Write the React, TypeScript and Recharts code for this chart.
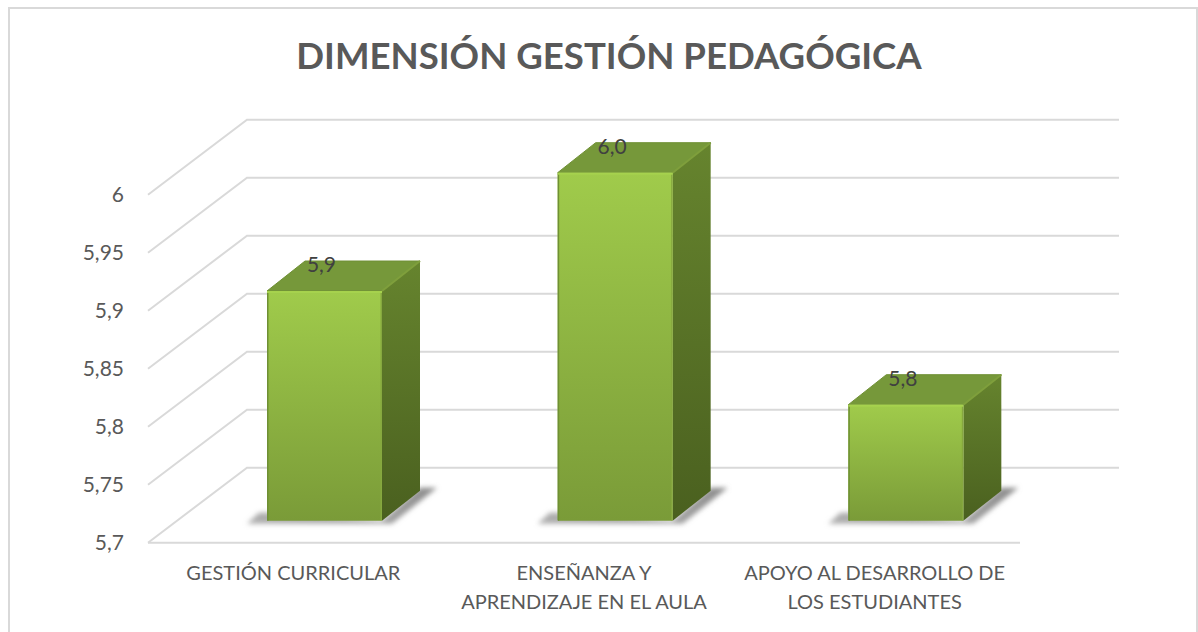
import * as React from 'react';
import { BarChart, Bar, XAxis, YAxis, CartesianGrid, LabelList } from 'recharts';

const categories = [
  'GESTIÓN CURRICULAR',
  'ENSEÑANZA Y\nAPRENDIZAJE EN EL AULA',
  'APOYO AL DESARROLLO DE\nLOS ESTUDIANTES',
];
const values = [5.898, 6.0, 5.8];
const yTicks = [5.7, 5.75, 5.8, 5.85, 5.9, 5.95, 6];

const chartData = categories.map((name, i) => ({ name, value: values[i] }));

const TEXT = '#595959';
const FONT = 'Lato, Carlito, sans-serif';

// fake 3D: how far the back wall and the bars sit from the front plane
const WALL_DX = 99;
const WALL_DY = 75;
const BAR_DX = 31;
const BAR_DY = 22;
const DEPTH_X = 38;
const DEPTH_Y = 30;

const comma = (v: number, digits?: number) =>
  (digits === undefined ? String(v) : v.toFixed(digits)).replace('.', ',');

function GridLine({ x1, x2, y1 }: any) {
  const back = y1 - WALL_DY;
  return (
    <polyline
      points={`${x1},${y1} ${x1 + WALL_DX},${back} ${x2 + WALL_DX},${back}`}
      fill="none"
      stroke="#d9d9d9"
      strokeWidth={2}
    />
  );
}

function Bar3D({ x, y, width, height }: any) {
  const left = x + BAR_DX;
  const right = left + width;
  const top = y - BAR_DY;
  const base = top + height;
  return (
    <g>
      <polygon
        points={`${left - 20},${base + 3} ${left - 8},${base - 8} ${left},${base - 8} ${right},${base} ${right + DEPTH_X},${base - DEPTH_Y - 3} ${right + 55},${base - DEPTH_Y - 3} ${right + 10},${base + 3}`}
        fill="url(#shadowFill)"
        filter="url(#shadowBlur)"
      />
      <polygon
        points={`${left},${top} ${left + DEPTH_X},${top - DEPTH_Y} ${right + DEPTH_X},${top - DEPTH_Y} ${right},${top}`}
        fill="#76983a"
        stroke="#6f9034"
        strokeWidth={1}
        strokeLinejoin="round"
      />
      <polygon
        points={`${right},${top} ${right + DEPTH_X},${top - DEPTH_Y} ${right + DEPTH_X},${base - DEPTH_Y} ${right},${base}`}
        fill="url(#sideFill)"
      />
      <line x1={right} y1={top} x2={right + DEPTH_X} y2={top - DEPTH_Y} stroke="#7f9f3c" strokeWidth={2} />
      <rect x={left} y={top} width={width} height={height} fill="url(#frontFill)" rx={1.5} />
      <rect x={left} y={top} width={1.5} height={height} fill="#6f9034" />
      <rect x={right - 1.5} y={top} width={1.5} height={height} fill="#86a83f" />
      <rect x={left} y={top} width={width} height={2} fill="#a6d24e" />
    </g>
  );
}

function ValueLabel({ x, y, width, value }: any) {
  return (
    <text
      x={x + width / 2 + BAR_DX - 3}
      y={y - BAR_DY - 19}
      textAnchor="middle"
      fontFamily={FONT}
      fontSize={21}
      fill="#404040"
    >
      {comma(value, 1)}
    </text>
  );
}

function CategoryTick({ x, y, payload }: any) {
  return (
    <text x={x} y={y} textAnchor="middle" fontFamily={FONT} fontSize={20} fill={TEXT}>
      {payload.value.split('\n').map((line: string, i: number) => (
        <tspan key={i} x={x} dy={i === 0 ? 0 : 29}>
          {line}
        </tspan>
      ))}
    </text>
  );
}

export default function App() {
  return (
    <div style={{ position: 'absolute', left: 0, top: 0, width: 1198, height: 632, background: '#fff', overflow: 'hidden' }}>
      <div
        style={{
          position: 'absolute',
          left: 8,
          top: 7,
          width: 1190,
          height: 640,
          border: '2px solid #d9d9d9',
          boxSizing: 'border-box',
        }}
      />
      <div
        style={{
          position: 'absolute',
          left: 0,
          right: 0,
          top: 30,
          paddingLeft: 20,
          textAlign: 'center',
          fontFamily: FONT,
          fontWeight: 700,
          fontSize: 36.6,
          lineHeight: '50px',
          color: TEXT,
        }}
      >
        DIMENSIÓN GESTIÓN PEDAGÓGICA
      </div>
      <div style={{ position: 'absolute', left: 0, top: 0 }}>
        <BarChart
          width={1198}
          height={632}
          data={chartData}
          margin={{ top: 194.7, right: 178, bottom: 19.3, left: 48 }}
          style={{ overflow: 'visible' }}
        >
          <defs>
            <linearGradient id="frontFill" x1="0" y1="0" x2="0" y2="1">
              <stop offset="0%" stopColor="#a0cb4b" />
              <stop offset="100%" stopColor="#7a9b38" />
            </linearGradient>
            <linearGradient id="sideFill" x1="0" y1="0" x2="0" y2="1">
              <stop offset="0%" stopColor="#66842e" />
              <stop offset="100%" stopColor="#4a601f" />
            </linearGradient>
            <linearGradient id="shadowFill" x1="0" y1="1" x2="1" y2="0">
              <stop offset="0%" stopColor="#b0b0b0" />
              <stop offset="100%" stopColor="#8c8c8c" />
            </linearGradient>
            <filter id="shadowBlur" x="-20%" y="-50%" width="140%" height="200%">
              <feGaussianBlur stdDeviation="2.5" />
            </filter>
          </defs>
          <CartesianGrid vertical={false} horizontal={(props: any) => <GridLine {...props} />} />
          <XAxis
            dataKey="name"
            height={70}
            axisLine={{ stroke: '#d9d9d9', strokeWidth: 2 }}
            tickLine={false}
            tick={<CategoryTick />}
            tickMargin={31}
            interval={0}
          />
          <YAxis
            domain={[5.7, 6]}
            ticks={yTicks}
            width={100}
            axisLine={false}
            tickLine={false}
            tickMargin={18}
            tickFormatter={(v: number) => comma(v)}
            tick={{ fill: TEXT, fontSize: 21, fontFamily: FONT }}
          />
          <Bar dataKey="value" barSize={115} shape={<Bar3D />} isAnimationActive={false}>
            <LabelList dataKey="value" content={<ValueLabel />} />
          </Bar>
        </BarChart>
      </div>
    </div>
  );
}
